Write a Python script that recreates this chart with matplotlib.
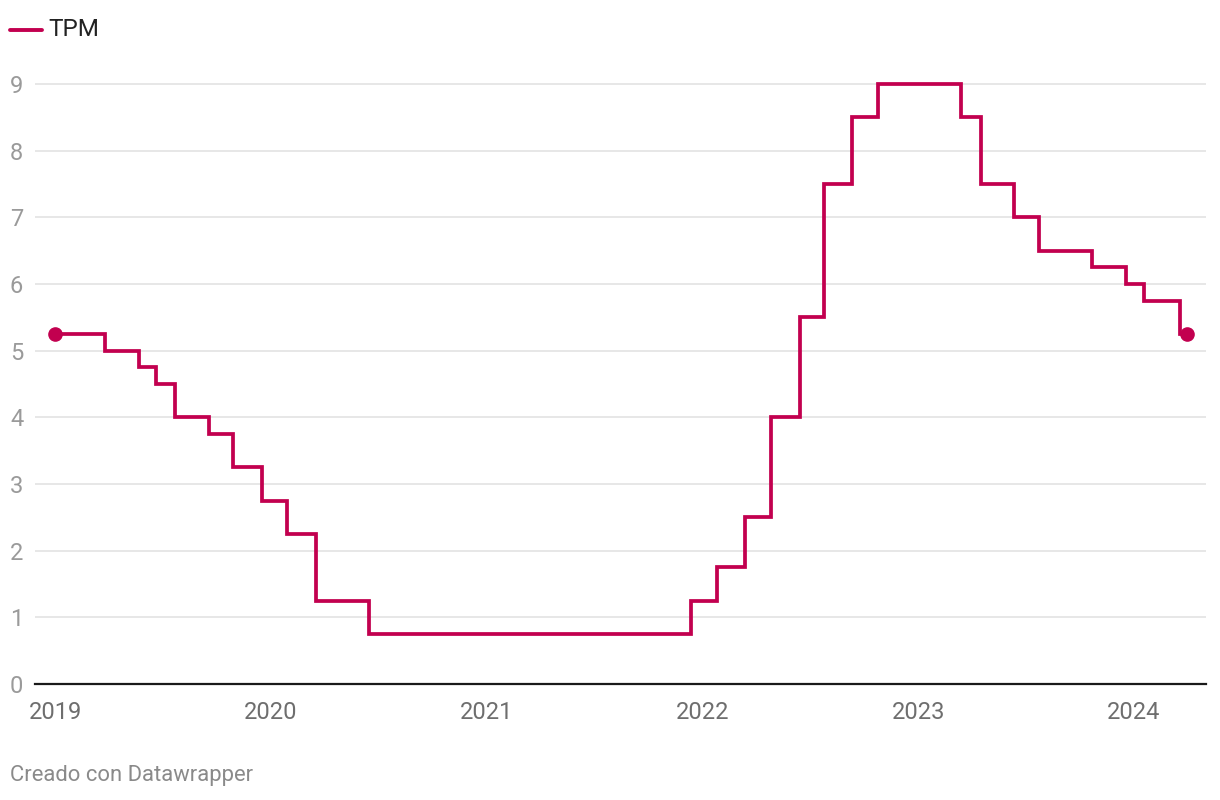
import matplotlib.pyplot as plt
import matplotlib.dates as mdates
import pandas as pd

plt.rcParams['font.family'] = ['Roboto', 'DejaVu Sans']

# TPM step changes (date the new rate starts, rate in %)
dates = [
    "2019-01-01", "2019-03-26", "2019-05-23", "2019-06-21", "2019-07-23",
    "2019-09-18", "2019-10-29", "2019-12-17", "2020-01-28", "2020-03-17",
    "2020-06-16", "2021-12-13", "2022-01-25", "2022-03-13", "2022-04-26",
    "2022-06-14", "2022-07-26", "2022-09-11", "2022-10-25", "2023-03-15",
    "2023-04-17", "2023-06-12", "2023-07-24", "2023-10-22", "2023-12-18",
    "2024-01-18", "2024-03-19", "2024-03-31",
]
tpm = [
    5.25, 5.0, 4.75, 4.5, 4.0,
    3.75, 3.25, 2.75, 2.25, 1.25,
    0.75, 1.25, 1.75, 2.5, 4.0,
    5.5, 7.5, 8.5, 9.0, 8.5,
    7.5, 7.0, 6.5, 6.25, 6.0,
    5.75, 5.25, 5.25,
]
year_ticks = ["2019", "2020", "2021", "2022", "2023", "2024"]
y_ticks = list(range(0, 10))

LINE = "#c2004f"
W, H = 1220, 800

x = pd.to_datetime(dates)

fig = plt.figure(figsize=(W / 100, H / 100), dpi=100)
ax = fig.add_axes([35 / W, 1 - 684 / H, (1206 - 35) / W, (684 - 70) / H])

ax.plot(x, tpm, drawstyle="steps-post", color=LINE, lw=2.7,
        solid_joinstyle="miter", zorder=3)
ax.plot([x[0], x[-1]], [tpm[0], tpm[-1]], "o", color=LINE, ms=9.5, zorder=4)

ax.set_xlim(pd.Timestamp("2018-11-28"), pd.Timestamp("2024-05-02"))
ax.set_ylim(0, 9.21)

ax.set_yticks(y_ticks)
ax.set_yticklabels([str(v) for v in y_ticks])
ax.set_xticks(pd.to_datetime([y + "-01-01" for y in year_ticks]))
ax.xaxis.set_major_formatter(mdates.DateFormatter("%Y"))

ax.grid(axis="y", color="#e3e3e3", lw=1.2)
ax.set_axisbelow(True)
for s in ["top", "right", "left"]:
    ax.spines[s].set_visible(False)
ax.spines["bottom"].set_color("#1a1a1a")
ax.spines["bottom"].set_linewidth(1.6)
ax.tick_params(axis="y", length=0, pad=8.5, labelsize=17, labelcolor="#9a9a9a")
ax.tick_params(axis="x", length=0, pad=12, labelsize=17, labelcolor="#6e6e6e")

# legend
fig.add_artist(plt.Line2D([10 / W, 42 / W], [1 - 30 / H, 1 - 30 / H],
                          color=LINE, lw=2.8, solid_capstyle="round"))
fig.text(48 / W, 1 - 30 / H, "TPM", fontsize=17.5, color="#222222", va="center")

fig.text(10 / W, 1 - 776 / H, "Creado con Datawrapper", fontsize=15.8,
         color="#8a8a8a", va="center")

fig.savefig("out.png", dpi=100, facecolor="white")
